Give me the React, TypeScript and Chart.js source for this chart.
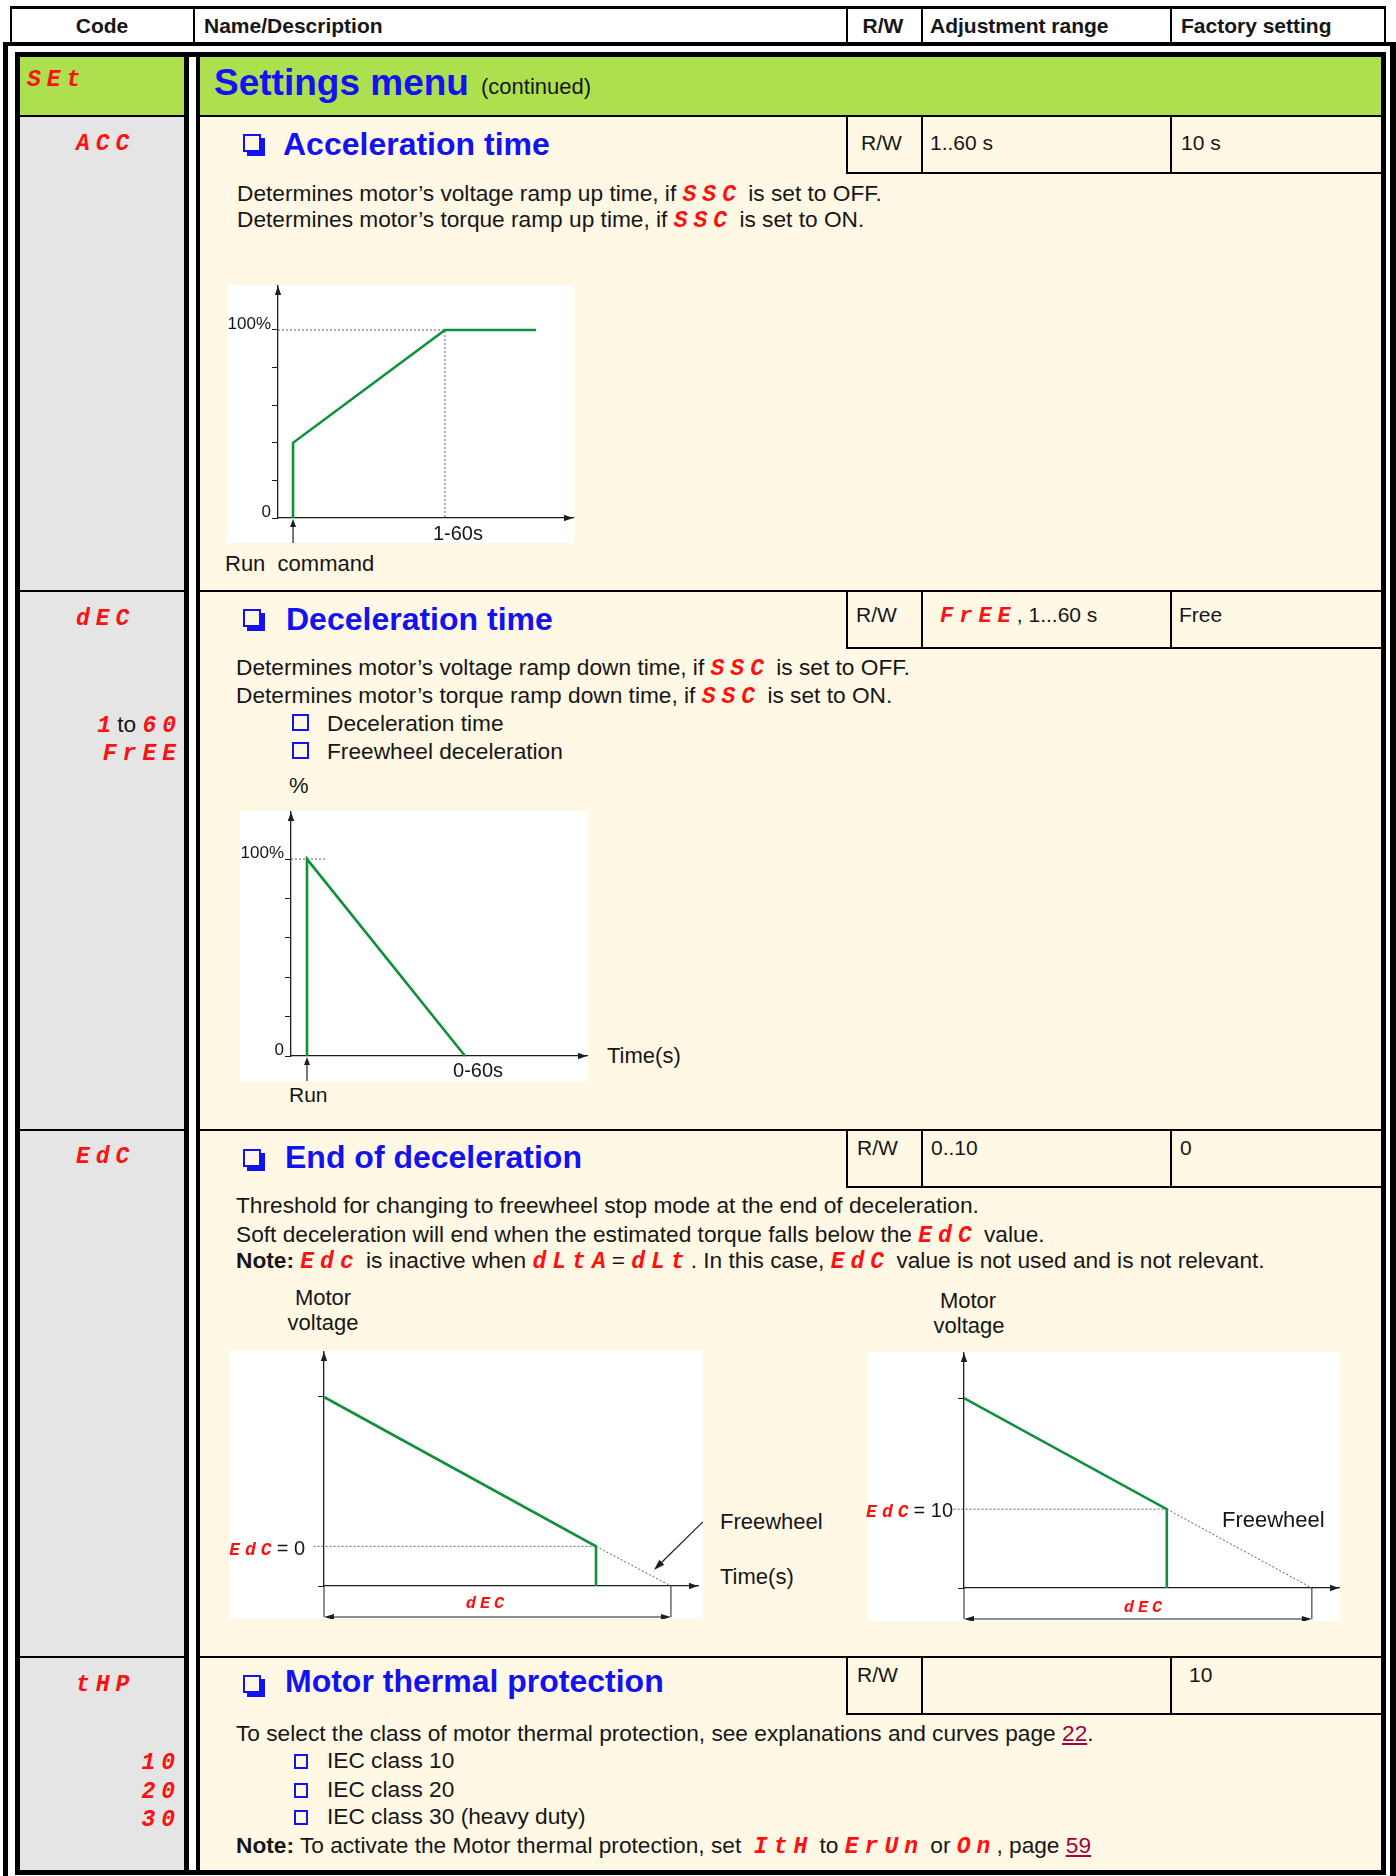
import React, { useEffect, useRef } from 'react';
import { Chart, registerables } from 'chart.js';

Chart.register(...registerables);

const SANS = '"Liberation Sans", Arial, Helvetica, sans-serif';
const MONO = '"Liberation Mono", "DejaVu Sans Mono", monospace';
const INK = '#161616';
const AXIS = '#1e1e1e';
const BLUE = '#1212f2';
const RED = '#ff1010';
const GREEN = '#10903c';
const GUIDE = '#5e5e5e';
const BEIGE = '#fff8e5';
const GRAY = '#e5e5e5';
const LIME = '#ade04f';
const LINK = '#a3003f';
const BODY = 22.7;

// ---------- Acceleration time (ACC) diagram ----------
const accTime = [5.1, 5.1, 56.6, 87.5];
const accLevel = [0, 40, 100, 100];
const accGuideTime = [0, 56.6, 56.6];
const accGuideLevel = [100, 100, 0];
const accYTicks = [0, 20, 40, 60, 80, 100];
const accYLabels: Record<string, string> = { '0': '0', '100': '100%' };
const accRunTime = 5.1;
const accXLabel = '1-60s';

// ---------- Deceleration time (DEC) diagram ----------
const decTime = [5.4, 5.4, 58.8];
const decLevel = [0, 100, 0];
const decGuideTime = [0, 12.2];
const decGuideLevel = [100, 100];
const decYTicks = [0, 20, 40, 60, 80, 100];
const decYLabels: Record<string, string> = { '0': '0', '100': '100%' };
const decRunTime = 5.4;
const decXLabel = '0-60s';

// ---------- End of deceleration, EdC = 0 ----------
const edc0Time = [0, 78.4, 78.4];
const edc0Voltage = [100, 21, 0];
const edc0FreeTime = [78.4, 100];
const edc0FreeVoltage = [21, 0];
const edc0GuideTime = [-3, 78.4];
const edc0GuideVoltage = [21, 21];
const edc0PointerTime = [109.2, 95.1];
const edc0PointerVoltage = [33.9, 8.5];

// ---------- End of deceleration, EdC = 10 ----------
const edc10Time = [0, 58.3, 58.3];
const edc10Voltage = [100, 41.5, 0];
const edc10FreeTime = [58.3, 100];
const edc10FreeVoltage = [41.5, 0];
const edc10GuideTime = [-3, 58.3];
const edc10GuideVoltage = [41.5, 41.5];
const edcYTicks = [0, 100];
const edcYLabels: Record<string, string> = {};

type Series = { x: number[]; y: number[]; kind: 'ramp' | 'guide' };

type DiagramSpec = {
  left: number; top: number; w: number; h: number;
  axisW: number; axisH: number; padTop: number; padRight: number;
  xMax: number; yMax: number;
  yTicks: number[]; yLabels: Record<string, string>;
  series: Series[];
  run?: number;
  xLabel?: { text: string; at: number; dy: number };
  span?: { from: number; to: number; drop: number };
  pointer?: { x: number[]; y: number[] };
};

function head(ctx: CanvasRenderingContext2D, tx: number, ty: number, dx: number, dy: number, len = 9, half = 3.2) {
  const bx = tx - dx * len, by = ty - dy * len;
  ctx.beginPath();
  ctx.moveTo(tx, ty);
  ctx.lineTo(bx - dy * half, by + dx * half);
  ctx.lineTo(bx + dy * half, by - dx * half);
  ctx.closePath();
  ctx.fill();
}

function seg(ctx: CanvasRenderingContext2D, x1: number, y1: number, x2: number, y2: number) {
  ctx.beginPath();
  ctx.moveTo(x1, y1);
  ctx.lineTo(x2, y2);
  ctx.stroke();
}

function buildConfig(s: DiagramSpec): any {
  const datasets = s.series.map((ser) => ({
    data: ser.x.map((x, i) => ({ x, y: ser.y[i] })),
    borderColor: ser.kind === 'ramp' ? GREEN : GUIDE,
    borderWidth: ser.kind === 'ramp' ? 2.6 : 1,
    borderDash: ser.kind === 'ramp' ? [] : [2, 2],
    pointRadius: 0,
    fill: false,
    tension: 0,
    clip: false,
    order: ser.kind === 'ramp' ? 0 : 1,
  }));

  const marks = {
    id: 'diagramMarks',
    afterDraw(chart: any) {
      const ctx: CanvasRenderingContext2D = chart.ctx;
      const { left, top, right, bottom } = chart.chartArea;
      const xs = chart.scales.x;
      const ys = chart.scales.y;
      ctx.save();
      ctx.fillStyle = AXIS;
      ctx.strokeStyle = AXIS;
      ctx.lineWidth = 1.2;
      head(ctx, left, top, 0, -1);
      head(ctx, right, bottom, 1, 0);
      if (s.run !== undefined) {
        const px = xs.getPixelForValue(s.run);
        seg(ctx, px, chart.height, px, bottom + 6);
        head(ctx, px, bottom + 1, 0, -1, 8, 3);
      }
      if (s.span) {
        const x0 = xs.getPixelForValue(s.span.from);
        const x1 = xs.getPixelForValue(s.span.to);
        const yd = bottom + s.span.drop;
        ctx.lineWidth = 1;
        seg(ctx, x0, bottom, x0, yd);
        seg(ctx, x1, bottom, x1, yd);
        seg(ctx, x0 + 4, yd, x1 - 4, yd);
        head(ctx, x0, yd, -1, 0, 10, 3);
        head(ctx, x1, yd, 1, 0, 10, 3);
      }
      if (s.pointer) {
        const ax = xs.getPixelForValue(s.pointer.x[0]);
        const ay = ys.getPixelForValue(s.pointer.y[0]);
        const bx = xs.getPixelForValue(s.pointer.x[1]);
        const by = ys.getPixelForValue(s.pointer.y[1]);
        const d = Math.hypot(bx - ax, by - ay);
        const ux = (bx - ax) / d, uy = (by - ay) / d;
        ctx.lineWidth = 1.2;
        seg(ctx, ax, ay, bx - ux * 6, by - uy * 6);
        head(ctx, bx, by, ux, uy, 11, 3.5);
      }
      if (s.xLabel) {
        ctx.font = `20px ${SANS}`;
        ctx.fillStyle = INK;
        ctx.textAlign = 'center';
        ctx.textBaseline = 'alphabetic';
        ctx.fillText(s.xLabel.text, xs.getPixelForValue(s.xLabel.at), bottom + s.xLabel.dy);
      }
      ctx.restore();
    },
  };

  return {
    type: 'line',
    data: { datasets },
    options: {
      animation: false,
      responsive: false,
      maintainAspectRatio: false,
      devicePixelRatio: 1,
      events: [],
      layout: { padding: { left: 0, top: s.padTop, right: s.padRight, bottom: 0 } },
      plugins: { legend: { display: false }, tooltip: { enabled: false }, title: { display: false } },
      scales: {
        x: {
          type: 'linear',
          min: 0,
          max: s.xMax,
          grid: { display: false, drawTicks: false },
          border: { display: true, color: AXIS, width: 1.3 },
          ticks: { display: false },
          afterFit: (sc: any) => {
            sc.height = s.axisH;
            sc.paddingLeft = 0; sc.paddingRight = 0; sc.paddingTop = 0; sc.paddingBottom = 0;
          },
        },
        y: {
          type: 'linear',
          min: 0,
          max: s.yMax,
          grid: { display: true, drawOnChartArea: false, drawTicks: true, tickLength: 6, color: AXIS, lineWidth: 1 },
          border: { display: true, color: AXIS, width: 1.3 },
          ticks: {
            display: true,
            padding: 1,
            labelOffset: -6,
            color: INK,
            font: { family: SANS, size: 17 },
            callback: (v: any) => s.yLabels[String(v)] ?? '',
          },
          afterBuildTicks: (sc: any) => {
            sc.ticks = s.yTicks.map((v) => ({ value: v }));
          },
          afterFit: (sc: any) => {
            sc.width = s.axisW;
            sc.paddingLeft = 0; sc.paddingRight = 0; sc.paddingTop = 0; sc.paddingBottom = 0;
          },
        },
      },
    },
    plugins: [marks],
  };
}

function Diagram({ spec }: { spec: DiagramSpec }) {
  const ref = useRef<HTMLCanvasElement | null>(null);
  useEffect(() => {
    if (!ref.current) return;
    const chart = new Chart(ref.current, buildConfig(spec));
    return () => chart.destroy();
  }, []);
  return (
    <canvas
      ref={ref}
      width={spec.w}
      height={spec.h}
      style={{ position: 'absolute', left: spec.left, top: spec.top, width: spec.w, height: spec.h, background: '#fff' }}
    />
  );
}

const accSpec: DiagramSpec = {
  left: 227, top: 285, w: 347, h: 258, axisW: 51, axisH: 25, padTop: 1, padRight: 1,
  xMax: 100, yMax: 123.4, yTicks: accYTicks, yLabels: accYLabels,
  series: [
    { x: accGuideTime, y: accGuideLevel, kind: 'guide' },
    { x: accTime, y: accLevel, kind: 'ramp' },
  ],
  run: accRunTime,
  xLabel: { text: accXLabel, at: 61, dy: 22 },
};

const decSpec: DiagramSpec = {
  left: 240, top: 811, w: 348, h: 270, axisW: 51, axisH: 25, padTop: 1, padRight: 1,
  xMax: 100, yMax: 123.9, yTicks: decYTicks, yLabels: decYLabels,
  series: [
    { x: decGuideTime, y: decGuideLevel, kind: 'guide' },
    { x: decTime, y: decLevel, kind: 'ramp' },
  ],
  run: decRunTime,
  xLabel: { text: decXLabel, at: 63.2, dy: 21 },
};

const edc0Spec: DiagramSpec = {
  left: 229, top: 1351, w: 474, h: 268, axisW: 95, axisH: 33, padTop: 1, padRight: 5,
  xMax: 107.8, yMax: 123.8, yTicks: edcYTicks, yLabels: edcYLabels,
  series: [
    { x: edc0GuideTime, y: edc0GuideVoltage, kind: 'guide' },
    { x: edc0FreeTime, y: edc0FreeVoltage, kind: 'guide' },
    { x: edc0Time, y: edc0Voltage, kind: 'ramp' },
  ],
  span: { from: 0, to: 100, drop: 31 },
  pointer: { x: edc0PointerTime, y: edc0PointerVoltage },
};

const edc10Spec: DiagramSpec = {
  left: 867, top: 1352, w: 473, h: 269, axisW: 97, axisH: 33, padTop: 1, padRight: 1,
  xMax: 107.8, yMax: 123.7, yTicks: edcYTicks, yLabels: edcYLabels,
  series: [
    { x: edc10GuideTime, y: edc10GuideVoltage, kind: 'guide' },
    { x: edc10FreeTime, y: edc10FreeVoltage, kind: 'guide' },
    { x: edc10Time, y: edc10Voltage, kind: 'ramp' },
  ],
  span: { from: 0, to: 100, drop: 31 },
};

// ---------- page helpers ----------
type TP = {
  x: number; b: number; size?: number; bold?: boolean; color?: string;
  align?: 'left' | 'center' | 'right'; family?: string; children?: React.ReactNode; pre?: boolean;
};

function T({ x, b, size = BODY, bold, color = INK, align = 'left', family = SANS, children, pre }: TP) {
  const style: React.CSSProperties = {
    position: 'absolute',
    top: b - Math.round(size * 0.85),
    fontSize: size,
    lineHeight: `${Math.round(size)}px`,
    fontFamily: family,
    fontWeight: bold ? 700 : 400,
    color,
    whiteSpace: pre ? 'pre' : 'nowrap',
    zIndex: 2,
  };
  if (align === 'left') style.left = x;
  else if (align === 'center') { style.left = x - 400; style.width = 800; style.textAlign = 'center'; }
  else { style.left = x - 800; style.width = 800; style.textAlign = 'right'; }
  return <div style={style}>{children}</div>;
}

function Seg({ c, size = 23 }: { c: string; size?: number }) {
  return (
    <span style={{ fontFamily: MONO, fontStyle: 'italic', fontWeight: 700, color: RED, fontSize: size, letterSpacing: Math.round(size * 0.26) }}>
      {c}
    </span>
  );
}

function Link({ c }: { c: string }) {
  return <span style={{ color: LINK, textDecoration: 'underline' }}>{c}</span>;
}

function Box({ x, y, w, h, bg, style }: { x: number; y: number; w: number; h: number; bg?: string; style?: React.CSSProperties }) {
  return <div style={{ position: 'absolute', left: x, top: y, width: w, height: h, background: bg, boxSizing: 'border-box', ...style }} />;
}

function Bullet({ x, y }: { x: number; y: number }) {
  return <Box x={x} y={y} w={18} h={18} style={{ border: `2.5px solid ${BLUE}`, boxShadow: `4px 4px 0 ${BLUE}`, zIndex: 2 }} />;
}

function Check({ x, y, w = 17, h = 17 }: { x: number; y: number; w?: number; h?: number }) {
  return <Box x={x} y={y} w={w} h={h} style={{ border: `2px solid ${BLUE}`, zIndex: 2 }} />;
}

const rowTops = [115, 590, 1129, 1656];
const headerCols = [193, 846, 921, 1170];

export default function App() {
  return (
    <div style={{ position: 'absolute', left: 0, top: 0, width: 1396, height: 1876, overflow: 'hidden', background: '#fff', fontFamily: SANS, color: INK }}>
      {/* header row */}
      <Box x={10} y={6} w={1376} h={37} style={{ borderTop: '3px solid #000', borderLeft: '2px solid #000', borderRight: '2px solid #000' }} />
      {headerCols.map((x) => <Box key={x} x={x} y={9} w={1.5} h={33} bg="#000" />)}
      <T x={102} b={33} size={21} bold align="center">Code</T>
      <T x={204} b={33} size={21} bold>Name/Description</T>
      <T x={883} b={33} size={21} bold align="center">R/W</T>
      <T x={930} b={33} size={21} bold>Adjustment range</T>
      <T x={1181} b={33} size={21} bold>Factory setting</T>

      {/* frames */}
      <Box x={3} y={42} w={1393} h={1900} style={{ borderStyle: 'solid', borderColor: '#000', borderWidth: '4px 6px 6px 5px' }} />
      <Box x={15} y={52} w={1371} h={1823} style={{ border: '5px solid #000' }} />
      <Box x={20} y={57} w={164} h={1813} bg={GRAY} />
      <Box x={200} y={57} w={1181} h={1813} bg={BEIGE} />
      <Box x={20} y={57} w={164} h={58} bg={LIME} />
      <Box x={200} y={57} w={1181} h={58} bg={LIME} />
      {rowTops.map((y) => <Box key={'r' + y} x={20} y={y} w={1361} h={1.5} bg="#000" />)}
      <Box x={184} y={57} w={5} h={1813} bg="#000" />
      <Box x={189} y={57} w={7} h={1813} bg="#fff" />
      <Box x={196} y={57} w={4} h={1813} bg="#000" />
      {rowTops.map((y) => (
        <React.Fragment key={'t' + y}>
          {[846, 921, 1170].map((x) => <Box key={x} x={x} y={y} w={1.5} h={58} bg="#000" />)}
          <Box x={846} y={y + 57} w={535} h={1.5} bg="#000" />
        </React.Fragment>
      ))}

      {/* Settings menu row */}
      <T x={27} b={86}><Seg c="SEt" /></T>
      <T x={214} b={95} size={37} bold color={BLUE}>Settings menu</T>
      <T x={481} b={95} size={22}>(continued)</T>

      {/* ACC */}
      <T x={76} b={150}><Seg c="ACC" /></T>
      <Bullet x={243} y={134} />
      <T x={283} b={155} size={32} bold color={BLUE}>Acceleration time</T>
      <T x={861} b={150} size={21}>R/W</T>
      <T x={930} b={150} size={21}>1..60 s</T>
      <T x={1181} b={150} size={21}>10 s</T>
      <T x={237} b={201}>Determines motor’s voltage ramp up time, if <Seg c="SSC" /> is set to OFF.</T>
      <T x={237} b={227}>Determines motor’s torque ramp up time, if <Seg c="SSC" /> is set to ON.</T>
      <Diagram spec={accSpec} />
      <T x={225} b={572} size={22} pre>Run  command</T>

      {/* DEC */}
      <T x={76} b={625}><Seg c="dEC" /></T>
      <T x={182} b={732} align="right"><Seg c="1" />to <Seg c="60" /></T>
      <T x={182} b={760} align="right"><Seg c="FrEE" /></T>
      <Bullet x={243} y={609} />
      <T x={286} b={630} size={32} bold color={BLUE}>Deceleration time</T>
      <T x={856} b={622} size={21}>R/W</T>
      <T x={940} b={622} size={21}><Seg c="FrEE" size={22} />, 1...60 s</T>
      <T x={1179} b={622} size={21}>Free</T>
      <T x={236} b={675}>Determines motor’s voltage ramp down time, if <Seg c="SSC" /> is set to OFF.</T>
      <T x={236} b={703}>Determines motor’s torque ramp down time, if <Seg c="SSC" /> is set to ON.</T>
      <Check x={292} y={714} />
      <T x={327} b={731}>Deceleration time</T>
      <Check x={292} y={742} />
      <T x={327} b={759}>Freewheel deceleration</T>
      <T x={289} b={794} size={22}>%</T>
      <Diagram spec={decSpec} />
      <T x={607} b={1064} size={22}>Time(s)</T>
      <T x={289} b={1102} size={21}>Run</T>

      {/* EdC */}
      <T x={76} b={1163}><Seg c="EdC" /></T>
      <Bullet x={243} y={1149} />
      <T x={285} b={1168} size={32} bold color={BLUE}>End of deceleration</T>
      <T x={857} b={1155} size={21}>R/W</T>
      <T x={931} b={1155} size={21}>0..10</T>
      <T x={1180} b={1155} size={21}>0</T>
      <T x={236} b={1213}>Threshold for changing to freewheel stop mode at the end of deceleration.</T>
      <T x={236} b={1242}>Soft deceleration will end when the estimated torque falls below the <Seg c="EdC" /> value.</T>
      <T x={236} b={1268}><b>Note:</b> <Seg c="Edc" /> is inactive when <Seg c="dLtA" />= <Seg c="dLt" />. In this case, <Seg c="EdC" /> value is not used and is not relevant.</T>

      <T x={323} b={1306} size={22} align="center">Motor</T>
      <T x={323} b={1331} size={22} align="center">voltage</T>
      <Diagram spec={edc0Spec} />
      <T x={305} b={1555} size={20} align="right"><Seg c="EdC" size={18} />= 0</T>
      <T x={487} b={1608} align="center"><Seg c="dEC" size={17} /></T>
      <T x={720} b={1530} size={22}>Freewheel</T>
      <T x={720} b={1585} size={22}>Time(s)</T>

      <T x={968} b={1309} size={22} align="center">Motor</T>
      <T x={969} b={1334} size={22} align="center">voltage</T>
      <Diagram spec={edc10Spec} />
      <T x={953} b={1517} size={20} align="right"><Seg c="EdC" size={18} />= 10</T>
      <T x={1145} b={1612} align="center"><Seg c="dEC" size={17} /></T>
      <T x={1222} b={1528} size={22}>Freewheel</T>

      {/* tHP */}
      <T x={76} b={1691}><Seg c="tHP" /></T>
      <Bullet x={243} y={1675} />
      <T x={285} b={1692} size={32} bold color={BLUE}>Motor thermal protection</T>
      <T x={857} b={1682} size={21}>R/W</T>
      <T x={1189} b={1682} size={21}>10</T>
      <T x={236} b={1741}>To select the class of motor thermal protection, see explanations and curves page <Link c="22" />.</T>
      <T x={181} b={1769} align="right"><Seg c="10" /></T>
      <T x={181} b={1798} align="right"><Seg c="20" /></T>
      <T x={181} b={1826} align="right"><Seg c="30" /></T>
      <Check x={294} y={1754} w={14} h={15} />
      <T x={327} b={1768}>IEC class 10</T>
      <Check x={294} y={1783} w={14} h={15} />
      <T x={327} b={1797}>IEC class 20</T>
      <Check x={294} y={1810} w={14} h={15} />
      <T x={327} b={1824}>IEC class 30 (heavy duty)</T>
      <T x={236} b={1853} pre><b>Note:</b> To activate the Motor thermal protection, set  <Seg c="ItH" /> to <Seg c="ErUn" /> or <Seg c="On" />, page <Link c="59" /></T>
    </div>
  );
}
